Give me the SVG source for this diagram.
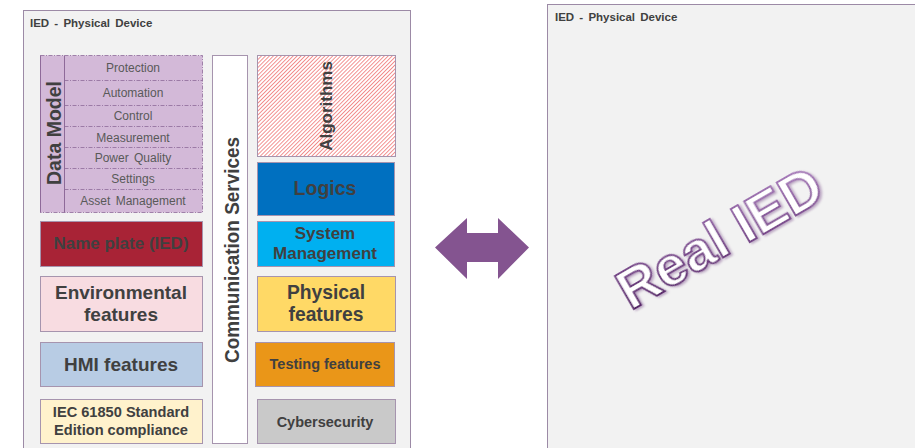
<svg xmlns="http://www.w3.org/2000/svg" width="915" height="448" viewBox="0 0 915 448">
  <defs>
    <pattern id="hatch" width="2.8" height="2.8" patternUnits="userSpaceOnUse" patternTransform="rotate(45)">
      <rect width="2.8" height="2.8" fill="#ffffff"/>
      <line x1="0" y1="0" x2="0" y2="2.8" stroke="#EE6464" stroke-width="1.4"/>
    </pattern>
    <linearGradient id="outline" x1="0" y1="1" x2="1" y2="0">
      <stop offset="0" stop-color="#4B1A5C"/>
      <stop offset="1" stop-color="#B58AC8"/>
    </linearGradient>
    <filter id="soft" x="-10%" y="-10%" width="120%" height="130%">
      <feDropShadow dx="1.5" dy="2" stdDeviation="1.2" flood-color="#7A4D8C" flood-opacity="0.45"/>
    </filter>
  </defs>
  <style>
    .panel { fill: #F2F2F2; stroke: #9C8AA6; stroke-width: 1; }
    .box { stroke: #A694AE; stroke-width: 1; }
    .title { font-family: "Liberation Sans", Arial, sans-serif; font-weight: bold; font-size: 11.5px; fill: #404040; word-spacing: 2px; }
    .row { font-family: "Liberation Sans", Arial, sans-serif; font-size: 12px; fill: #595959; text-anchor: middle; }
    .lbl { font-family: "Liberation Sans", Arial, sans-serif; font-weight: bold; fill: #404040; text-anchor: middle; }
    .sep { stroke: #8E6A99; stroke-width: 0.8; stroke-dasharray: 4 1.5 1 1.5; }
  </style>

  <rect width="915" height="448" fill="#ffffff"/>

  <!-- Left panel: IED model -->
  <g id="ied-model">
    <rect class="panel" x="23.5" y="10.5" width="387" height="445"/>
    <text class="title" x="30" y="27">IED - Physical Device</text>
  </g>

  <!-- Data model with its sections -->
  <g id="data-model">
    <rect x="40.5" y="55.5" width="162" height="157" fill="#D3B9D8" stroke="#8E6A99" stroke-width="0.8" stroke-dasharray="4 1.5 1 1.5"/>
    <line x1="40.5" y1="55.5" x2="40.5" y2="212.5" stroke="#8E6A99" stroke-width="1"/>
    <line x1="64.5" y1="55.5" x2="64.5" y2="212.5" stroke="#8E6A99" stroke-width="1"/>
    <line class="sep" x1="64.5" y1="80.5" x2="202.5" y2="80.5"/>
    <line class="sep" x1="64.5" y1="105.5" x2="202.5" y2="105.5"/>
    <line class="sep" x1="64.5" y1="126.5" x2="202.5" y2="126.5"/>
    <line class="sep" x1="64.5" y1="147.5" x2="202.5" y2="147.5"/>
    <line class="sep" x1="64.5" y1="168.5" x2="202.5" y2="168.5"/>
    <line class="sep" x1="64.5" y1="189.5" x2="202.5" y2="189.5"/>
    <text class="lbl" font-size="19.5" transform="translate(60.5,133) rotate(-90)">Data Model</text>
    <text class="row" x="133" y="72">Protection</text>
    <text class="row" x="133" y="97">Automation</text>
    <text class="row" x="133" y="120">Control</text>
    <text class="row" x="133" y="142">Measurement</text>
    <text class="row" x="133" y="162" word-spacing="2">Power Quality</text>
    <text class="row" x="133" y="183">Settings</text>
    <text class="row" x="133" y="205" word-spacing="2">Asset Management</text>
  </g>

  <g id="name-plate">
    <rect class="box" x="40.5" y="221.5" width="162" height="45" fill="#A82336"/>
    <text class="lbl" font-size="17" x="121" y="249">Name plate (IED)</text>
  </g>

  <g id="environmental">
    <rect class="box" x="40.5" y="276.5" width="162" height="55" fill="#F8DCE1"/>
    <text class="lbl" font-size="19" x="121" y="299">Environmental</text>
    <text class="lbl" font-size="19" x="121" y="321">features</text>
  </g>

  <g id="hmi">
    <rect class="box" x="40.5" y="342.5" width="162" height="44" fill="#B8CCE4"/>
    <text class="lbl" font-size="19" x="121" y="371">HMI features</text>
  </g>

  <g id="iec-compliance">
    <rect class="box" x="40.5" y="399.5" width="162" height="44" fill="#FFF2CC"/>
    <text class="lbl" font-size="14.6" x="121" y="417">IEC 61850 Standard</text>
    <text class="lbl" font-size="14.6" x="121" y="435">Edition compliance</text>
  </g>

  <g id="communication">
    <rect class="box" x="212.5" y="55.5" width="35" height="388" fill="#ffffff"/>
    <text class="lbl" font-size="20" textLength="226" lengthAdjust="spacingAndGlyphs" transform="translate(238.5,250) rotate(-90)">Communication Services</text>
  </g>

  <g id="algorithms">
    <rect class="box" x="257.5" y="55.5" width="138" height="101" fill="url(#hatch)"/>
    <text class="lbl" font-size="17" transform="translate(332,106) rotate(-90)">Algorithms</text>
  </g>

  <g id="logics">
    <rect class="box" x="257.5" y="162.5" width="137" height="53" fill="#0070C0"/>
    <text class="lbl" font-size="19.5" x="325" y="195">Logics</text>
  </g>

  <g id="system-management">
    <rect class="box" x="257.5" y="221.5" width="137" height="45" fill="#00B0F0"/>
    <text class="lbl" font-size="17" x="325" y="239">System</text>
    <text class="lbl" font-size="17" x="325" y="259">Management</text>
  </g>

  <g id="physical">
    <rect class="box" x="257.5" y="276.5" width="138" height="55" fill="#FFD966"/>
    <text class="lbl" font-size="19.3" x="326" y="299">Physical</text>
    <text class="lbl" font-size="19.3" x="326" y="321">features</text>
  </g>

  <g id="testing">
    <rect class="box" x="255.5" y="342.5" width="139" height="44" fill="#EA9618"/>
    <text class="lbl" font-size="14.5" x="325" y="369">Testing features</text>
  </g>

  <g id="cybersecurity">
    <rect class="box" x="257.5" y="399.5" width="138" height="44" fill="#C9C9C9"/>
    <text class="lbl" font-size="14.5" x="325" y="427">Cybersecurity</text>
  </g>

  <!-- Correspondence arrow -->
  <g id="connectors">
    <polygon points="435,247.5 467,218 467,233 498,233 498,218 529,247.5 498,279 498,262 467,262 467,279" fill="#845490"/>
  </g>

  <!-- Right panel: real device -->
  <g id="real-ied">
    <rect class="panel" x="547.5" y="4.5" width="380" height="450"/>
    <text class="title" x="555" y="21">IED - Physical Device</text>
    <text font-family="'Liberation Sans', Arial, sans-serif" font-weight="bold" font-size="56" fill="#ffffff" stroke="url(#outline)" stroke-width="1.9" text-anchor="middle" filter="url(#soft)" transform="translate(729,254) rotate(-30)">Real IED</text>
  </g>
</svg>
